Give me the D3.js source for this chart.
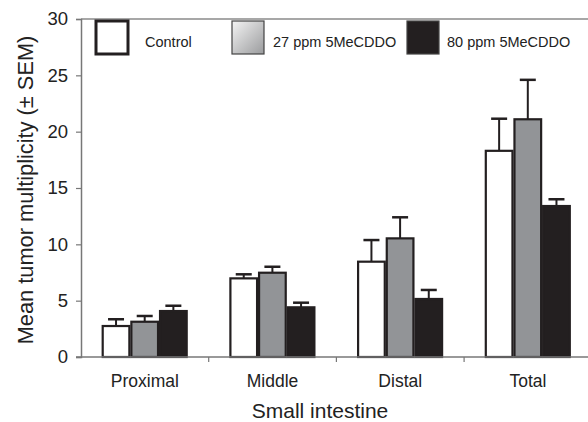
<!DOCTYPE html>
<html>
<head>
<meta charset="utf-8">
<script src="https://cdn.jsdelivr.net/npm/d3@7"></script>
<style>
  body { margin: 0; background: #fff; }
  svg { font-family: "Liberation Sans", Arial, sans-serif; }
</style>
</head>
<body>
<script>
// chart data
var categories = ["Proximal", "Middle", "Distal", "Total"];
var seriesNames = ["Control", "27 ppm 5MeCDDO", "80 ppm 5MeCDDO"];
var controlVals = [2.75, 6.98, 8.46, 18.3];
var controlErr = [0.6, 0.36, 1.92, 2.85];
var lowVals = [3.13, 7.48, 10.53, 21.1];
var lowErr = [0.51, 0.53, 1.87, 3.5];
var highVals = [4.08, 4.41, 5.15, 13.4];
var highErr = [0.47, 0.41, 0.8, 0.6];
var yTicks = [0, 5, 10, 15, 20, 25, 30];

var values = [controlVals, lowVals, highVals];
var errors = [controlErr, lowErr, highErr];
var fills = ["#ffffff", "#929497", "#231f20"];

var W = 588, H = 422;
var plotLeft = 81, plotTop = 19, plotBottom = 357;

var svg = d3.select("body").append("svg")
    .attr("width", W)
    .attr("height", H);

var defs = svg.append("defs");
var grad = defs.append("linearGradient")
    .attr("id", "legGrad")
    .attr("x1", "0").attr("y1", "0").attr("x2", "1").attr("y2", "1");
grad.append("stop").attr("offset", "0").attr("stop-color", "#f4f4f4");
grad.append("stop").attr("offset", "1").attr("stop-color", "#9a9b9d");

var x = d3.scaleBand().domain(categories).range([plotLeft, plotLeft + 4 * 127.7]);
var xInner = d3.scaleBand().domain(d3.range(3)).range([20.7, 106.7]);
var y = d3.scaleLinear().domain([0, 30]).range([plotBottom, plotTop]);

// top border line
svg.append("line")
    .attr("x1", plotLeft).attr("x2", W)
    .attr("y1", y(30)).attr("y2", y(30))
    .attr("stroke", "#8a8a8a").attr("stroke-width", 1.5);

// y axis
var yAxis = svg.append("g")
    .attr("transform", "translate(" + plotLeft + ",0)")
    .call(d3.axisLeft(y).tickValues(yTicks).tickSize(5).tickPadding(8));
yAxis.select(".domain").attr("stroke", "#777").attr("stroke-width", 1.5);
yAxis.selectAll(".tick line").attr("stroke", "#777").attr("stroke-width", 1.2);
yAxis.selectAll(".tick text")
    .attr("font-size", 18.5)
    .attr("fill", "#222")
    .attr("font-family", "Liberation Sans, Arial, sans-serif");

// bars
var groups = svg.selectAll(".grp")
    .data(categories)
    .enter().append("g")
    .attr("class", "grp")
    .attr("transform", function(d) { return "translate(" + x(d) + ",0)"; });

for (var s = 0; s < 3; s++) {
  (function(s) {
    groups.append("line")
        .attr("x1", xInner(s) + xInner.bandwidth() / 2)
        .attr("x2", xInner(s) + xInner.bandwidth() / 2)
        .attr("y1", function(d, i) { return y(values[s][i]); })
        .attr("y2", function(d, i) { return y(values[s][i] + errors[s][i]); })
        .attr("stroke", "#231f20").attr("stroke-width", 2);
    groups.append("line")
        .attr("x1", xInner(s) + xInner.bandwidth() / 2 - 8)
        .attr("x2", xInner(s) + xInner.bandwidth() / 2 + 8)
        .attr("y1", function(d, i) { return y(values[s][i] + errors[s][i]); })
        .attr("y2", function(d, i) { return y(values[s][i] + errors[s][i]); })
        .attr("stroke", "#231f20").attr("stroke-width", 2.5);
    groups.append("rect")
        .attr("x", xInner(s) + 1)
        .attr("width", xInner.bandwidth() - 2)
        .attr("y", function(d, i) { return y(values[s][i]); })
        .attr("height", function(d, i) { return plotBottom - y(values[s][i]); })
        .attr("fill", fills[s])
        .attr("stroke", "#231f20")
        .attr("stroke-width", 2.2);
  })(s);
}

// x axis
var xAxis = svg.append("g")
    .attr("transform", "translate(0," + plotBottom + ")");
xAxis.append("line")
    .attr("x1", plotLeft - 5).attr("x2", W)
    .attr("stroke", "#777").attr("stroke-width", 1.5);
xAxis.selectAll(".xt")
    .data(categories.slice(1))
    .enter().append("line")
    .attr("x1", function(d) { return x(d); })
    .attr("x2", function(d) { return x(d); })
    .attr("y1", 0).attr("y2", 5)
    .attr("stroke", "#777").attr("stroke-width", 1.2);
xAxis.selectAll(".xl")
    .data(categories)
    .enter().append("text")
    .attr("x", function(d) { return x(d) + x.bandwidth() / 2; })
    .attr("y", 29.5)
    .attr("text-anchor", "middle")
    .attr("font-size", 17.5)
    .attr("fill", "#222")
    .text(function(d) { return d; });

svg.append("text")
    .attr("x", 320)
    .attr("y", 418)
    .attr("text-anchor", "middle")
    .attr("font-size", 21)
    .attr("fill", "#222")
    .text("Small intestine");

svg.append("text")
    .attr("transform", "translate(33,190) rotate(-90)")
    .attr("text-anchor", "middle")
    .attr("font-size", 21.8)
    .attr("fill", "#222")
    .text("Mean tumor multiplicity (\u00b1 SEM)");

// legend
var legX = [96, 232, 407];
var legTextX = [145, 273, 447];
var legBoxFill = ["#ffffff", "url(#legGrad)", "#231f20"];
var leg = svg.selectAll(".leg")
    .data(seriesNames)
    .enter().append("g")
    .attr("transform", function(d, i) { return "translate(" + legX[i] + ",21)"; });
leg.append("rect")
    .attr("width", 32).attr("height", 33)
    .attr("fill", function(d, i) { return legBoxFill[i]; })
    .attr("stroke", function(d, i) { return i === 0 ? "#231f20" : "#444"; })
    .attr("stroke-width", function(d, i) { return i === 0 ? 3 : 1.2; });
leg.append("text")
    .attr("x", function(d, i) { return legTextX[i] - legX[i]; })
    .attr("y", 26)
    .attr("font-size", 14.5)
    .attr("fill", "#222")
    .text(function(d) { return d; });
</script>
</body>
</html>
